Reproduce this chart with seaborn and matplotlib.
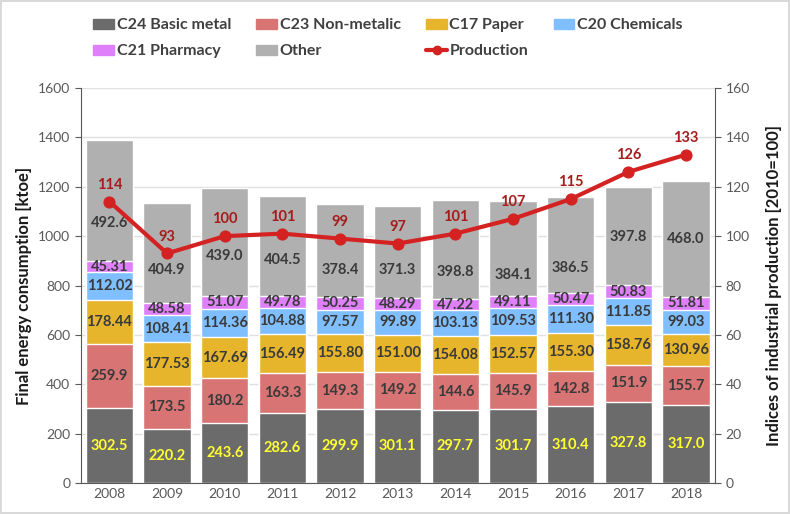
import numpy as np
import pandas as pd
import matplotlib.pyplot as plt
import seaborn as sns
from matplotlib.patches import Patch
from matplotlib.lines import Line2D

# ---- data ----
years = ['2008', '2009', '2010', '2011', '2012', '2013', '2014', '2015', '2016', '2017', '2018']
c24_basic_metal = [302.5, 220.2, 243.6, 282.6, 299.9, 301.1, 297.7, 301.7, 310.4, 327.8, 317.0]
c23_non_metalic = [259.9, 173.5, 180.2, 163.3, 149.3, 149.2, 144.6, 145.9, 142.8, 151.9, 155.7]
c17_paper = [178.44, 177.53, 167.69, 156.49, 155.80, 151.00, 154.08, 152.57, 155.30, 158.76, 130.96]
c20_chemicals = [112.02, 108.41, 114.36, 104.88, 97.57, 99.89, 103.13, 109.53, 111.30, 111.85, 99.03]
c21_pharmacy = [45.31, 48.58, 51.07, 49.78, 50.25, 48.29, 47.22, 49.11, 50.47, 50.83, 51.81]
other = [492.6, 404.9, 439.0, 404.5, 378.4, 371.3, 398.8, 384.1, 386.5, 397.8, 468.0]
production = [114, 93, 100, 101, 99, 97, 101, 107, 115, 126, 133]

# where the "Other" labels sit (moved by hand in the original to dodge the line)
other_label_y = [1052, 862, 919, 903, 862, 862, 855, 842, 872, 997, 988]

series = [
    ('C24 Basic metal', c24_basic_metal, '#6b6b6b', '1f'),
    ('C23 Non-metalic', c23_non_metalic, '#d97474', '1f'),
    ('C17 Paper', c17_paper, '#e6b52c', '2f'),
    ('C20 Chemicals', c20_chemicals, '#80bfff', '2f'),
    ('C21 Pharmacy', c21_pharmacy, '#df80fa', '2f'),
    ('Other', other, '#b0b0b0', '1f'),
]

sns.set_style('white')
plt.rcParams['font.family'] = ['Lato', 'DejaVu Sans']

fig = plt.figure(figsize=(7.9, 5.14), dpi=100, edgecolor='#d9d9d9', linewidth=1.5)
ax = fig.add_axes([0.102, 0.060, 0.803, 0.769])

# stacked bars: draw cumulative totals from the top down
df = pd.DataFrame({name: vals for name, vals, _, _ in series}, index=years)
cum = df.cumsum(axis=1)
for name, vals, color, fmt in reversed(series):
    sns.barplot(x=years, y=cum[name].values, color=color, width=0.82,
                saturation=1, ax=ax, zorder=2)

# labels in segments
bottoms = np.zeros(len(years))
for name, vals, color, fmt in series:
    vals = np.array(vals)
    for i, v in enumerate(vals):
        tc = '#ffff33' if name == 'C24 Basic metal' else '#3a3a3a'
        y = other_label_y[i] if name == 'Other' else bottoms[i] + v / 2
        ax.text(i, y, format(v, '.' + fmt), ha='center', va='center',
                fontsize=10.5, fontweight='bold', color=tc, zorder=5)
    bottoms += vals

ax.set_ylim(0, 1600)
ax.set_xlim(-0.5, 10.5)
ax.set_yticks(range(0, 1601, 200))
ax.yaxis.grid(True, color='#e0e0e0', linewidth=1)
ax.set_axisbelow(True)
ax.set_ylabel('Final energy consumption [ktoe]', fontsize=12, fontweight='bold', color='#1a1a1a')
ax.tick_params(axis='both', colors='#595959', labelsize=10, length=4, direction='out')
ax.tick_params(axis='x', length=0)
ax.tick_params(axis='y', left=True)
for sp in ['left', 'bottom']:
    ax.spines[sp].set_color('#595959')
for sp in ['top', 'right']:
    ax.spines[sp].set_visible(False)

# production line on secondary axis
ax2 = ax.twinx()
sns.lineplot(x=np.arange(len(years)), y=production, ax=ax2, color='#d42222', linewidth=3,
             marker='o', markersize=8, markeredgecolor='#d42222', zorder=6)
for i, p in enumerate(production):
    ax2.text(i, p + 4, str(p), ha='center', va='bottom', fontsize=10.5, fontweight='bold',
             color='#a61c1c', zorder=7)
ax2.set_ylim(0, 160)
ax2.set_yticks(range(0, 161, 20))
ax2.set_ylabel('Indices of industrial production [2010=100]', fontsize=12,
               fontweight='bold', color='#1a1a1a', labelpad=12)
ax2.tick_params(axis='y', colors='#595959', labelsize=10, length=4, direction='out', right=True)
for sp in ['left', 'top', 'bottom']:
    ax2.spines[sp].set_visible(False)
ax2.spines['right'].set_color('#595959')

# legend (reordered so rows read left to right)
h = {n: Patch(color=c) for n, _, c, _ in series}
h['Production'] = Line2D([0], [0], color='#d42222', linewidth=3, marker='o', markersize=6)
order = ['C24 Basic metal', 'C21 Pharmacy', 'C23 Non-metalic', 'Other',
         'C17 Paper', 'Production', 'C20 Chemicals']
leg = fig.legend([h[o] for o in order], order, ncol=4, loc='upper left',
                 bbox_to_anchor=(0.1, 0.992), frameon=False,
                 handlelength=1.3, handleheight=0.6, handletextpad=0.15, columnspacing=1.6,
                 labelspacing=0.75, prop={'weight': 'bold', 'size': 11.5})
for t in leg.get_texts():
    t.set_color('#404040')

fig.savefig('out.png', dpi=100)
